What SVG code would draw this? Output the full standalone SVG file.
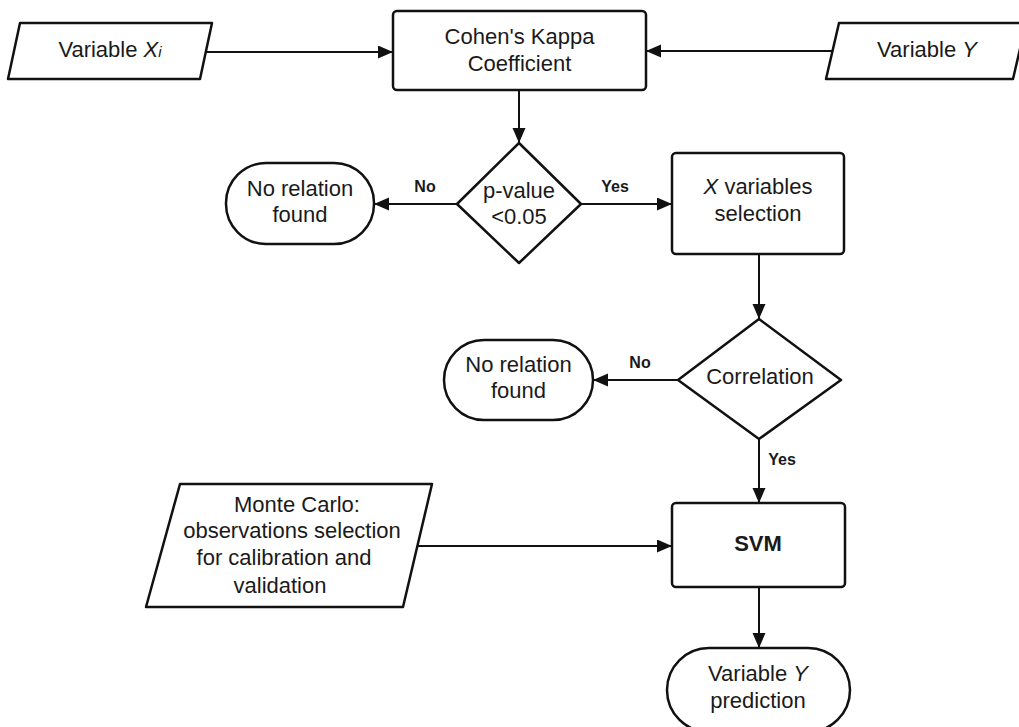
<svg xmlns="http://www.w3.org/2000/svg" width="1019" height="727" viewBox="0 0 1019 727">
<style>
.s{fill:#fff;stroke:#111;stroke-width:2.5;stroke-linejoin:round}
.t{font-family:"Liberation Sans",Arial,sans-serif;font-size:22px;fill:#1a1a1a;text-anchor:middle}
.l{font-family:"Liberation Sans",Arial,sans-serif;font-size:16px;font-weight:bold;fill:#1a1a1a;text-anchor:middle}
.c{fill:none;stroke:#111;stroke-width:2;marker-end:url(#a)}
.i{font-style:italic}
</style>
<defs>
<marker id="a" markerUnits="userSpaceOnUse" markerWidth="16" markerHeight="14" refX="15" refY="6.5" orient="auto">
<path d="M0,0 L15,6.5 L0,13 z" fill="#111"/>
</marker>
</defs>
<rect width="1019" height="727" fill="#fff"/>
<g id="connectors">
<line class="c" x1="206" y1="52" x2="393" y2="52"/>
<line class="c" x1="832" y1="51" x2="646" y2="51"/>
<line class="c" x1="519" y1="90" x2="519" y2="143"/>
<line class="c" x1="457" y1="204" x2="374" y2="204"/>
<line class="c" x1="581" y1="204" x2="672" y2="204"/>
<line class="c" x1="759" y1="254" x2="759" y2="319"/>
<line class="c" x1="678" y1="380" x2="593" y2="380"/>
<line class="c" x1="759" y1="439" x2="759" y2="503"/>
<line class="c" x1="418" y1="546" x2="672" y2="546"/>
<line class="c" x1="759" y1="587" x2="759" y2="648"/>
<text class="l" x="425" y="192">No</text>
<text class="l" x="615" y="192">Yes</text>
<text class="l" x="640" y="368">No</text>
<text class="l" x="782" y="465">Yes</text>
</g>
<g id="varX">
<path class="s" d="M20,23 L212,23 L200,79 L8,79 Z"/>
<text class="t" x="110" y="57">Variable <tspan class="i">X</tspan><tspan class="i" font-size="15">i</tspan></text>
</g>
<g id="cohen">
<rect class="s" x="393" y="11" width="253" height="79" rx="4"/>
<text class="t" x="519.5" y="44">Cohen's Kappa</text>
<text class="t" x="519.5" y="71">Coefficient</text>
</g>
<g id="varY">
<path class="s" d="M839,23 L1026,23 L1013,79 L826,79 Z"/>
<text class="t" x="927" y="57">Variable <tspan class="i">Y</tspan></text>
</g>
<g id="pvalue">
<path class="s" d="M519,143 L581,204 L519,263 L457,204 Z"/>
<text class="t" x="519" y="198">p-value</text>
<text class="t" x="519" y="224">&lt;0.05</text>
</g>
<g id="norel1">
<rect class="s" x="226" y="163" width="148" height="81" rx="40"/>
<text class="t" x="300" y="196">No relation</text>
<text class="t" x="300" y="222">found</text>
</g>
<g id="xsel">
<rect class="s" x="672" y="153" width="172" height="101" rx="4"/>
<text class="t" x="758" y="194"><tspan class="i">X</tspan> variables</text>
<text class="t" x="758" y="221">selection</text>
</g>
<g id="correlation">
<path class="s" d="M759,319 L841,380 L759,439 L678,380 Z"/>
<text class="t" x="760" y="384">Correlation</text>
</g>
<g id="norel2">
<rect class="s" x="444" y="340" width="149" height="80" rx="40"/>
<text class="t" x="518.5" y="372">No relation</text>
<text class="t" x="518.5" y="398">found</text>
</g>
<g id="montecarlo">
<path class="s" d="M180,484 L432,484 L403,607 L146,607 Z"/>
<text class="t" x="297" y="512">Monte Carlo:</text>
<text class="t" x="292" y="538">observations selection</text>
<text class="t" x="284" y="565">for calibration and</text>
<text class="t" x="280" y="593">validation</text>
</g>
<g id="svm">
<rect class="s" x="672" y="503" width="173" height="84" rx="4" stroke-width="4"/>
<text class="t" x="758" y="551" font-weight="bold">SVM</text>
</g>
<g id="prediction">
<rect class="s" x="667" y="648" width="183" height="84" rx="42"/>
<text class="t" x="758" y="681">Variable <tspan class="i">Y</tspan></text>
<text class="t" x="758" y="708">prediction</text>
</g>
</svg>
